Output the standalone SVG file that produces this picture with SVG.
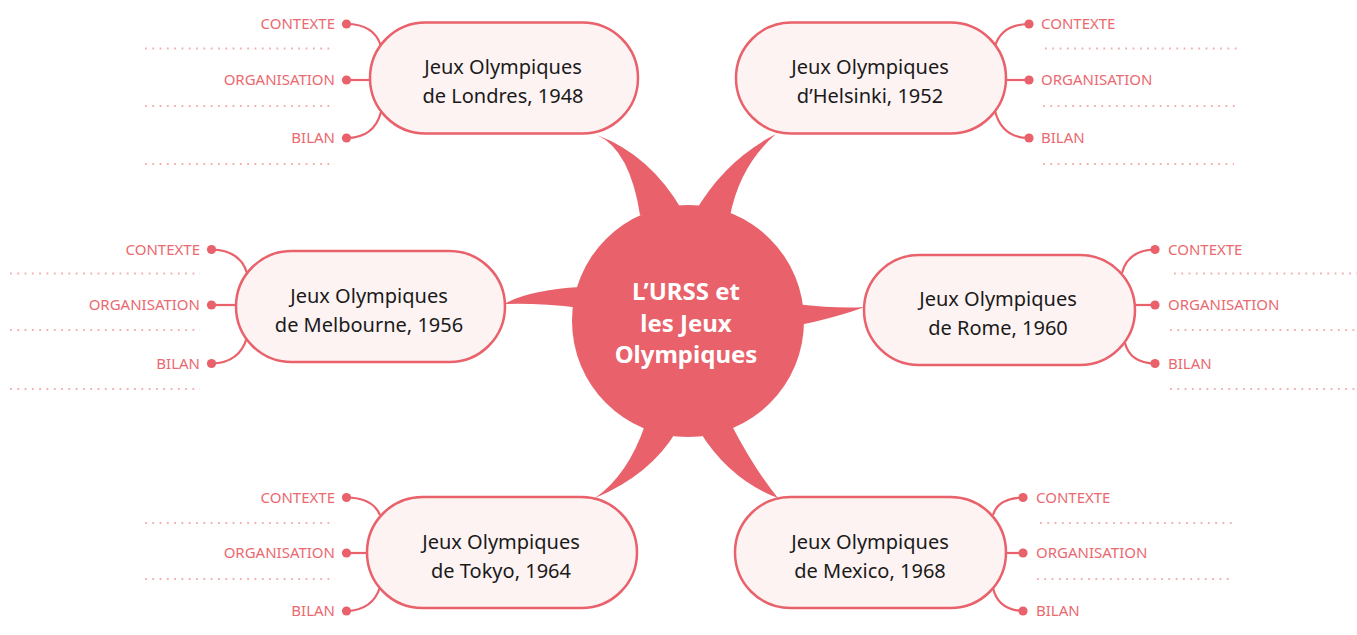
<svg xmlns="http://www.w3.org/2000/svg" width="1357" height="635" viewBox="0 0 1357 635">
<style>
.node rect{fill:#fdf3f3;stroke:#e9616a;stroke-width:2.5}
.node text.t{font-family:"Noto Sans","Open Sans",sans-serif;font-size:20px;fill:#1a1a1a;text-anchor:middle}
.lbl{font-family:"Noto Sans","Open Sans",sans-serif;font-size:15px;fill:#ea6970}
.lbl.l{text-anchor:end}
.sub{fill:none;stroke:#e9616a;stroke-width:2.2}
.dot{fill:#e9616a}
.dotted{stroke:#f3aeb1;stroke-width:1.8;stroke-dasharray:1.8 5.5;fill:none}
.wedge{fill:#e9616a}
.center text{font-family:"Noto Sans","Open Sans",sans-serif;font-size:24px;font-weight:bold;fill:#ffffff;text-anchor:middle}
</style>
<rect width="1357" height="635" fill="#ffffff"/>

<g id="connectors">
  <path class="wedge" d="M 640 215 Q 630 150 597 135 Q 650 155 682 210 Z"/>
  <path class="wedge" d="M 695 212 Q 725 160 776 134 Q 740 165 730 216 Z"/>
  <path class="wedge" d="M 506 303 Q 530 290 580 287 L 580 308 Q 540 303 506 304 Z"/>
  <path class="wedge" d="M 795 304 Q 840 309 865 307 Q 835 318 795 326 Z"/>
  <path class="wedge" d="M 645 425 Q 628 475 595 498 Q 650 475 676 432 Z"/>
  <path class="wedge" d="M 700 432 Q 730 480 778 498 Q 755 470 732 426 Z"/>

  <path class="sub" d="M 346.5 24 Q 374 24 381 46"/>
  <path class="sub" d="M 346.5 80 H 371"/>
  <path class="sub" d="M 346.5 138 Q 374 138 381 112"/>
  <path class="sub" d="M 1029 24 Q 1002 24 995 46"/>
  <path class="sub" d="M 1029 80 H 1005"/>
  <path class="sub" d="M 1029 138 Q 1002 138 995 111"/>
  <path class="sub" d="M 211.5 249.5 Q 240 250 247 273"/>
  <path class="sub" d="M 211.5 305 H 237"/>
  <path class="sub" d="M 211.5 363.5 Q 240 363 247 337"/>
  <path class="sub" d="M 1155 249.5 Q 1128 250 1122 273"/>
  <path class="sub" d="M 1155 305 H 1134"/>
  <path class="sub" d="M 1155 363.5 Q 1130 363 1125 343"/>
  <path class="sub" d="M 346.5 497.5 Q 373 498 380 515"/>
  <path class="sub" d="M 346.5 553 H 368"/>
  <path class="sub" d="M 346.5 611 Q 373 610 380 587"/>
  <path class="sub" d="M 1023 497.5 Q 998 498 993 515"/>
  <path class="sub" d="M 1023 553 H 1005"/>
  <path class="sub" d="M 1023 611 Q 998 610 993 588"/>

  <circle class="dot" cx="346.5" cy="24" r="4.6"/>
  <circle class="dot" cx="346.5" cy="80" r="4.6"/>
  <circle class="dot" cx="346.5" cy="138" r="4.6"/>
  <circle class="dot" cx="1029" cy="24" r="4.6"/>
  <circle class="dot" cx="1029" cy="80" r="4.6"/>
  <circle class="dot" cx="1029" cy="138" r="4.6"/>
  <circle class="dot" cx="211.5" cy="249.5" r="4.6"/>
  <circle class="dot" cx="211.5" cy="305" r="4.6"/>
  <circle class="dot" cx="211.5" cy="363.5" r="4.6"/>
  <circle class="dot" cx="1155" cy="249.5" r="4.6"/>
  <circle class="dot" cx="1155" cy="305" r="4.6"/>
  <circle class="dot" cx="1155" cy="363.5" r="4.6"/>
  <circle class="dot" cx="346.5" cy="497.5" r="4.6"/>
  <circle class="dot" cx="346.5" cy="553" r="4.6"/>
  <circle class="dot" cx="346.5" cy="611" r="4.6"/>
  <circle class="dot" cx="1023" cy="497.5" r="4.6"/>
  <circle class="dot" cx="1023" cy="553" r="4.6"/>
  <circle class="dot" cx="1023" cy="611" r="4.6"/>

  <path class="dotted" d="M 145 48.5 H 335 M 145 106 H 335 M 145 164 H 335"/>
  <path class="dotted" d="M 1045 48.5 H 1238 M 1043 106 H 1236 M 1043 164 H 1234"/>
  <path class="dotted" d="M 10 273.5 H 200 M 10 330 H 200 M 10 389 H 200"/>
  <path class="dotted" d="M 1174 273.5 H 1357 M 1170 330 H 1357 M 1170 389 H 1357"/>
  <path class="dotted" d="M 145 523 H 335 M 145 579 H 335"/>
  <path class="dotted" d="M 1040 523 H 1232 M 1037 579 H 1232"/>

  <text class="lbl l" x="335" y="29">CONTEXTE</text>
  <text class="lbl l" x="335" y="85">ORGANISATION</text>
  <text class="lbl l" x="335" y="143">BILAN</text>
  <text class="lbl" x="1041" y="29">CONTEXTE</text>
  <text class="lbl" x="1041" y="85">ORGANISATION</text>
  <text class="lbl" x="1041" y="143">BILAN</text>
  <text class="lbl l" x="200" y="254.5">CONTEXTE</text>
  <text class="lbl l" x="200" y="310">ORGANISATION</text>
  <text class="lbl l" x="200" y="368.5">BILAN</text>
  <text class="lbl" x="1168" y="254.5">CONTEXTE</text>
  <text class="lbl" x="1168" y="310">ORGANISATION</text>
  <text class="lbl" x="1168" y="368.5">BILAN</text>
  <text class="lbl l" x="335" y="502.5">CONTEXTE</text>
  <text class="lbl l" x="335" y="558">ORGANISATION</text>
  <text class="lbl l" x="335" y="616">BILAN</text>
  <text class="lbl" x="1036" y="502.5">CONTEXTE</text>
  <text class="lbl" x="1036" y="558">ORGANISATION</text>
  <text class="lbl" x="1036" y="616">BILAN</text>
</g>

<g id="center" class="center">
  <circle cx="688" cy="321" r="116" fill="#e9616a"/>
  <text x="686" y="299.5">L’URSS et</text>
  <text x="686" y="331.5">les Jeux</text>
  <text x="686" y="363">Olympiques</text>
</g>

<g id="londres" class="node">
  <rect x="370" y="22.5" width="268" height="111" rx="55.5"/>
  <text class="t" x="503" y="74">Jeux Olympiques</text>
  <text class="t" x="503" y="103">de Londres, 1948</text>
</g>
<g id="helsinki" class="node">
  <rect x="736" y="22.5" width="270" height="111" rx="55.5"/>
  <text class="t" x="870" y="74">Jeux Olympiques</text>
  <text class="t" x="870" y="103">d’Helsinki, 1952</text>
</g>
<g id="melbourne" class="node">
  <rect x="236" y="251" width="269" height="111" rx="55.5"/>
  <text class="t" x="369" y="302.5">Jeux Olympiques</text>
  <text class="t" x="369" y="331.5">de Melbourne, 1956</text>
</g>
<g id="rome" class="node">
  <rect x="864" y="255" width="271" height="110" rx="55"/>
  <text class="t" x="998" y="306">Jeux Olympiques</text>
  <text class="t" x="998" y="335">de Rome, 1960</text>
</g>
<g id="tokyo" class="node">
  <rect x="367" y="497" width="270" height="111" rx="55.5"/>
  <text class="t" x="501" y="548.5">Jeux Olympiques</text>
  <text class="t" x="501" y="577.5">de Tokyo, 1964</text>
</g>
<g id="mexico" class="node">
  <rect x="735" y="497" width="271" height="111" rx="55.5"/>
  <text class="t" x="870" y="548.5">Jeux Olympiques</text>
  <text class="t" x="870" y="577.5">de Mexico, 1968</text>
</g>
</svg>
